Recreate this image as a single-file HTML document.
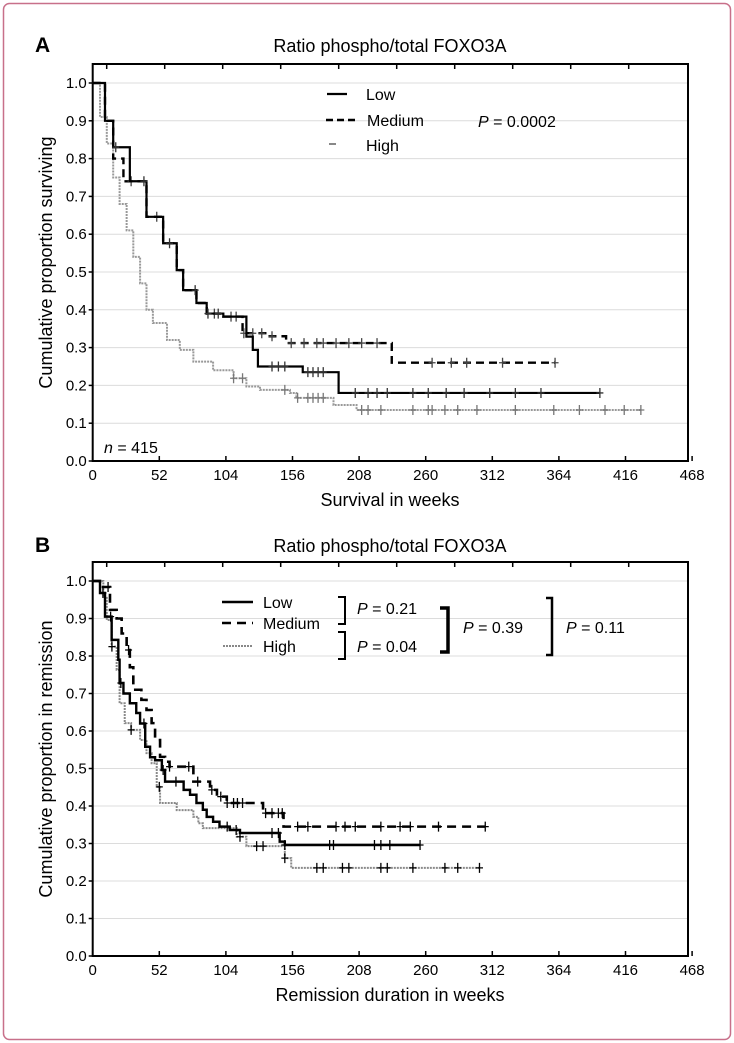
<!DOCTYPE html>
<html><head><meta charset="utf-8"><style>
body{margin:0;background:#fff;}
svg{display:block;font-family:"Liberation Sans",Arial,sans-serif;}
</style></head><body>
<svg id="fig" width="734" height="1043" viewBox="0 0 734 1043">
<rect x="3.5" y="3.5" width="727" height="1036" rx="6" fill="none" stroke="#c8708a" stroke-width="1.5"/>
<text x="35" y="52" font-size="21" font-weight="bold">A</text>
<text x="390" y="52" font-size="18" text-anchor="middle">Ratio phospho/total FOXO3A</text>
<text x="35" y="552" font-size="21" font-weight="bold">B</text>
<text x="390" y="552" font-size="18" text-anchor="middle">Ratio phospho/total FOXO3A</text>
<g id="pa"></g>
<g id="pb"></g>
</svg>
<script>
const xTicks=[0,52,104,156,208,260,312,364,416,468];
const yTicks=[0.0,0.1,0.2,0.3,0.4,0.5,0.6,0.7,0.8,0.9,1.0];
// Panel A step points [weeks, proportion]
const aLowW=[0,9.6,16,29,42,55,65.6,70.6,81,89,102,120,125,129,164,192,396];
const aLowV=[1.0,0.90,0.83,0.74,0.646,0.576,0.505,0.452,0.418,0.39,0.382,0.329,0.294,0.25,0.235,0.18,0.18];
const aMedW=[0,9.6,16,24,42,55,65.6,70.6,81,89,102,117,136,151,233.5,361];
const aMedV=[1.0,0.90,0.80,0.74,0.646,0.576,0.505,0.452,0.418,0.39,0.382,0.338,0.33,0.312,0.26,0.26];
const aHighW=[0,5.7,11,16,21,26.5,31.7,37,42,47,58,68,78.6,94,110,120,130.6,154,159,188,206,428];
const aHighV=[1.0,0.91,0.84,0.75,0.68,0.61,0.54,0.47,0.40,0.365,0.32,0.294,0.263,0.24,0.219,0.197,0.188,0.18,0.167,0.148,0.135,0.135];
const aLowC=[18,40,60,80,90,98,140,145,150,168,172,176,180,205,215,222,230,250,262,276,290,310,330,350,396];
const aMedC=[30,50,95,108,112,118,125,132,140,155,165,175,180,190,200,210,222,265,280,292,320,361];
const aHighC=[110,117,150,160,168,172,176,180,210,215,225,250,262,265,275,285,300,330,360,380,400,415,428];
// Panel B
const bLowW=[0,5.7,9.6,14.8,20,21,24,29,34,37,41,44.8,48.7,54,56.5,71,76,81,86,89,94,99,107,115,146,150,255.6];
const bLowV=[1.0,0.968,0.905,0.843,0.79,0.728,0.70,0.674,0.648,0.62,0.558,0.53,0.522,0.496,0.465,0.443,0.43,0.408,0.39,0.371,0.358,0.345,0.336,0.328,0.305,0.296,0.296];
const bMedW=[0,5.7,13.5,18.7,22.6,26.5,29,31.7,38,42,46,48.7,52.6,56.5,60,78.6,91.6,97,104.7,133,149,306.5];
const bMedV=[1.0,0.984,0.923,0.90,0.86,0.816,0.77,0.71,0.683,0.656,0.621,0.576,0.531,0.518,0.505,0.465,0.443,0.425,0.408,0.381,0.345,0.345];
const bHighW=[0,8.3,11,14.8,18.7,21,25,30,37,42,46,50,52.6,65.6,78.6,82.5,86,112.5,120,150,155,302];
const bHighV=[1.0,0.958,0.896,0.825,0.763,0.674,0.621,0.603,0.576,0.541,0.514,0.451,0.408,0.389,0.371,0.354,0.341,0.318,0.293,0.261,0.235,0.235];
const bLowC=[8,14,22,40,55,65,105,112,140,145,150,185,188,220,225,232,255.6];
const bMedC=[12,28,60,75,82,93,100,105,110,113,117,135,140,145,148,160,168,190,197,205,225,240,248,270,306.5];
const bHighC=[15,30,52,115,128,133,150,175,180,195,200,225,230,250,275,285,302];

const NS="http://www.w3.org/2000/svg";
function mk(parent,tag,attrs){const e=document.createElementNS(NS,tag);for(const k in attrs)e.setAttribute(k,attrs[k]);parent.appendChild(e);return e;}
function stepAt(W,V,w){let v=V[0];for(let i=0;i<W.length;i++){if(W[i]<=w)v=V[i];}return v;}

function panel(g,cfg){
  const L=92.7,R=688,T=cfg.top,B=cfg.bottom;
  const xs=w=>L+w*66.6/52;
  const ys=v=>cfg.y0-v*cfg.ppu;
  yTicks.forEach(t=>{
    if(t>0){const gl=mk(g,'line',{x1:L,x2:R,y1:ys(t),y2:ys(t),stroke:'#dcdcdc','stroke-width':1});
    
    }
    const tk=mk(g,'line',{x1:L-4,x2:L,y1:ys(t),y2:ys(t),stroke:'#000','stroke-width':1.5});
    
    
    const tl=mk(g,'text',{x:L-6,y:ys(t)+5,'font-size':15,'text-anchor':'end'});
    tl.textContent=t.toFixed(1);
    
    
  });
  xTicks.forEach(t=>{
    const tk=mk(g,'line',{x1:xs(t),x2:xs(t),y1:B,y2:B-5,stroke:'#000','stroke-width':1.5});
    
    
    const tl=mk(g,'text',{x:xs(t),y:B+19,'font-size':15,'text-anchor':'middle'});
    tl.textContent=String(t);
    
    
  });
  for(let k=0;k<10;k++){const tt=mk(g,'line',{x1:L+14+58*k,x2:L+14+58*k,y1:T,y2:T+5,stroke:'#000','stroke-width':1.5});
    
    }
  const box=mk(g,'rect',{x:L,y:T,width:R-L,height:B-T,fill:'none',stroke:'#000','stroke-width':2});
  
  
  cfg.series.forEach(s=>{
    let d='M'+xs(s.W[0])+','+ys(s.V[0]);
    for(let i=1;i<s.W.length;i++){d+=' H'+xs(s.W[i])+' V'+ys(s.V[i]);}
    const p=mk(g,'path',{d:d,fill:'none',stroke:s.color,'stroke-width':s.sw,'stroke-dasharray':s.dash});
    
    
    s.C.forEach(c=>{
      const x=xs(c),y=ys(stepAt(s.W,s.V,c));
      const m=mk(g,'path',{d:`M${x-3.5},${y} H${x+3.5} M${x},${y-5} V${y+5}`,stroke:s.cc,'stroke-width':1.3,fill:'none'});
      
      
    });
  });
  const xt=mk(g,'text',{x:390,y:B+45,'font-size':18,'text-anchor':'middle'});
  xt.textContent=cfg.xtitle;
  
  
  const cy=(T+B)/2;
  const yt=mk(g,'text',{x:52,y:cy,'font-size':18,'text-anchor':'middle',transform:`rotate(-90 52 ${cy})`});
  yt.textContent=cfg.ytitle;
  
  
}
const pa=document.getElementById('pa'),pb=document.getElementById('pb');
panel(pa,{top:64,bottom:461,y0:461,ppu:378,xtitle:'Survival in weeks',ytitle:'Cumulative proportion surviving',
 series:[{name:'high',W:aHighW,V:aHighV,C:aHighC,color:'#999',sw:2,dash:'2,1',cc:'#777'},
 {name:'medium',W:aMedW,V:aMedV,C:aMedC,color:'#000',sw:2.4,dash:'8,5',cc:'#444'},
 {name:'low',W:aLowW,V:aLowV,C:aLowC,color:'#000',sw:2.2,dash:'none',cc:'#333'}]});
panel(pb,{top:562,bottom:956,y0:956,ppu:375,xtitle:'Remission duration in weeks',ytitle:'Cumulative proportion in remission',
 series:[{name:'high',W:bHighW,V:bHighV,C:bHighC,color:'#8a8a8a',sw:2,dash:'2,1',cc:'#000'},
 {name:'medium',W:bMedW,V:bMedV,C:bMedC,color:'#000',sw:2.6,dash:'9,6',cc:'#000'},
 {name:'low',W:bLowW,V:bLowV,C:bLowC,color:'#000',sw:2.4,dash:'none',cc:'#000'}]});
</script>
<script>
const f=document.getElementById('fig');
function add(tag,attrs,txt,name){const e=document.createElementNS(NS,tag);for(const k in attrs)e.setAttribute(k,attrs[k]);if(txt)e.textContent=txt;


f.appendChild(e);return e;}
add('line',{x1:327,x2:347,y1:94,y2:94,stroke:'#000','stroke-width':2.2},null,'legend-low-swatch');
add('text',{x:366,y:100,'font-size':16},'Low','legend-low-label');
add('line',{x1:326,x2:358,y1:120,y2:120,stroke:'#000','stroke-width':2.4,'stroke-dasharray':'7,4'},null,'legend-medium-swatch');
add('text',{x:367,y:126,'font-size':16},'Medium','legend-medium-label');
add('line',{x1:329,x2:336,y1:144,y2:144,stroke:'#888','stroke-width':2},null,'legend-high-swatch');
add('text',{x:366,y:151,'font-size':16},'High','legend-high-label');
add('text',{x:478,y:127,'font-size':16},'','p-value-a').innerHTML='<tspan font-style="italic">P</tspan> = 0.0002';
add('text',{x:104,y:453,'font-size':16},'','n-label').innerHTML='<tspan font-style="italic">n</tspan> = 415';
add('line',{x1:222,x2:253,y1:602,y2:602,stroke:'#000','stroke-width':2.4},null,'legend-b-low-swatch');
add('text',{x:263,y:608,'font-size':16},'Low','legend-b-low-label');
add('line',{x1:222,x2:253,y1:623,y2:623,stroke:'#000','stroke-width':2.6,'stroke-dasharray':'9,6'},null,'legend-b-medium-swatch');
add('text',{x:263,y:629,'font-size':16},'Medium','legend-b-medium-label');
add('line',{x1:223,x2:253,y1:646,y2:646,stroke:'#888','stroke-width':2,'stroke-dasharray':'2,1'},null,'legend-b-high-swatch');
add('text',{x:263,y:652,'font-size':16},'High','legend-b-high-label');
add('path',{d:'M338,597 H345 V624 H338',fill:'none',stroke:'#000','stroke-width':2},null,'bracket-low-medium');
add('path',{d:'M338,632 H345 V659 H338',fill:'none',stroke:'#000','stroke-width':2},null,'bracket-medium-high');
add('path',{d:'M440,608 H448 V652 H440',fill:'none',stroke:'#000','stroke-width':3.5},null,'bracket-groups');
add('path',{d:'M546,598 H552 V655 H546',fill:'none',stroke:'#000','stroke-width':2.5},null,'bracket-overall');
add('text',{x:357,y:614,'font-size':16},'','p-value-021').innerHTML='<tspan font-style="italic">P</tspan> = 0.21';
add('text',{x:357,y:652,'font-size':16},'','p-value-004').innerHTML='<tspan font-style="italic">P</tspan> = 0.04';
add('text',{x:463,y:633,'font-size':16},'','p-value-039').innerHTML='<tspan font-style="italic">P</tspan> = 0.39';
add('text',{x:566,y:633,'font-size':16},'','p-value-011').innerHTML='<tspan font-style="italic">P</tspan> = 0.11';
</script>
</body></html>
